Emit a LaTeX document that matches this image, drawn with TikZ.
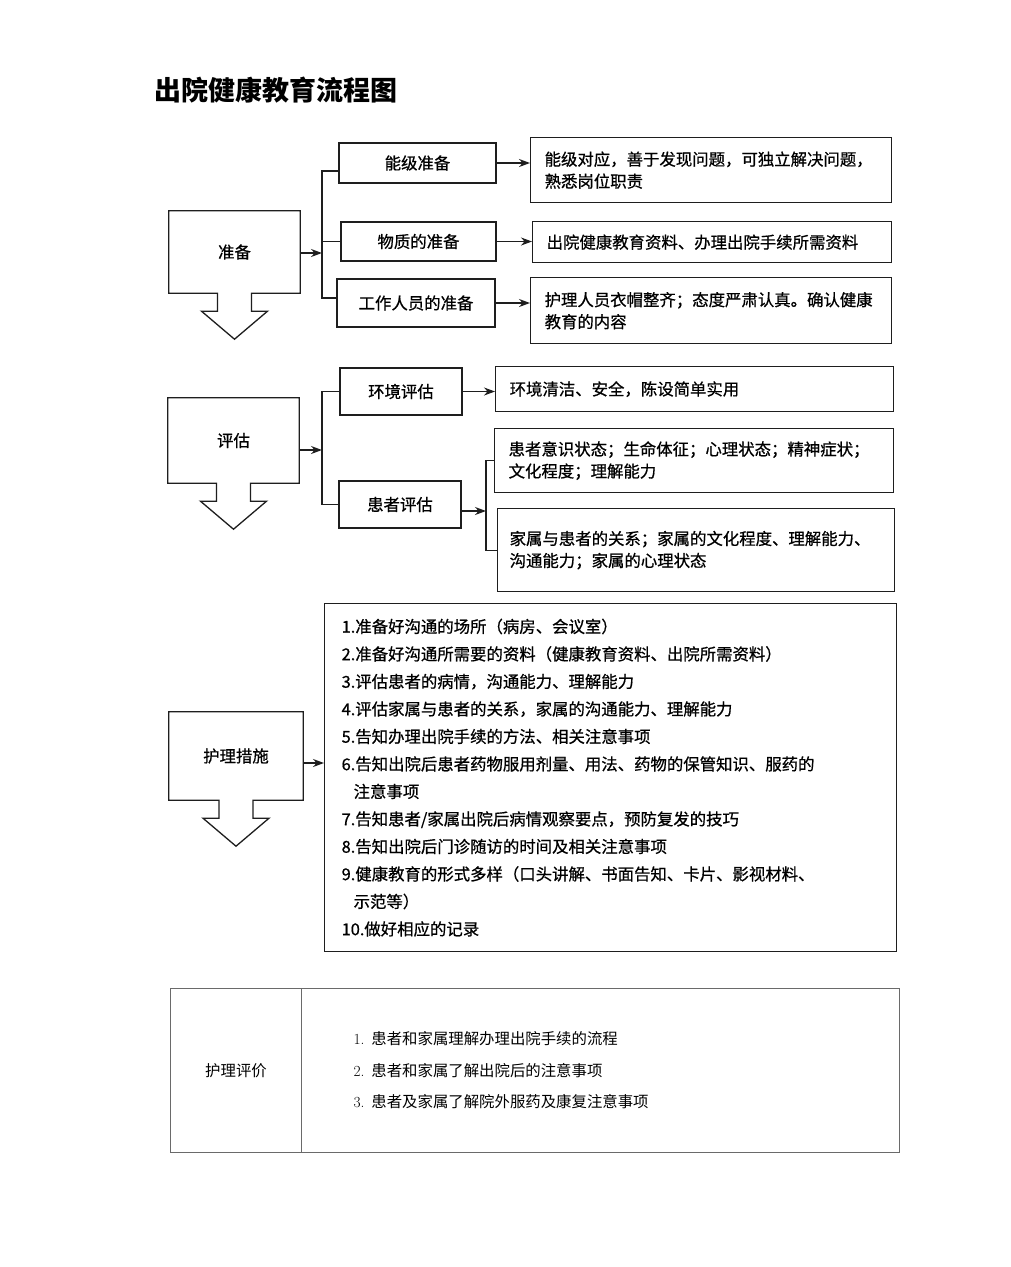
\documentclass[tikz,border=0pt]{standalone}
\usepackage{fontspec}
\newfontfamily\cjk{Noto Sans CJK SC}
\newfontfamily\cjkmid{Noto Sans CJK SC}[FakeBold=0.7]
\usetikzlibrary{arrows.meta,calc}
\definecolor{ink}{HTML}{1E1E1E}
\definecolor{rule}{HTML}{6A6A6A}

\newcommand{\blockarrow}[1]{%
  \draw[line] (#1.south west) -- (#1.north west) -- (#1.north east) -- (#1.south east)
    -- ($(#1.south)+(17,0)$) -- ++(0,18) -- ++(16,0) -- ($(#1.south)+(0,46)$)
    -- ($(#1.south)+(-33,18)$) -- ++(16,0) -- ++(0,-18) -- cycle;}

\begin{document}
\begin{tikzpicture}[x=1pt,y=-1pt,
    line/.style={line width=1.3pt, draw=ink},
    arr/.style={line, -{Stealth[length=11pt,width=8pt]}},
    stage/.style={inner sep=0pt, font=\cjkmid\fontsize{16.4}{20}\selectfont},
    labelbox/.style={line, inner sep=0pt, font=\cjkmid\fontsize{16.4}{20}\selectfont},
    descbox/.style={line, anchor=north west, inner xsep=14pt, inner ysep=0pt, align=left,
      font=\cjkmid\fontsize{16.4}{22}\selectfont},
    cell/.style={draw=rule, line width=1pt, anchor=north west, inner sep=0pt,
      font=\cjk\fontsize{15.4}{20}\selectfont}]
  \fill[white] (0,0) rectangle (1010,1267);
  \useasboundingbox (0,0) rectangle (1010,1267);

  \node[anchor=west, font=\cjk\bfseries\fontsize{27}{30}\selectfont] (title) at (151,90) {出院健康教育流程图};

  \node[stage, minimum width=131pt, minimum height=82pt] (prep) at (234.5,252) {准备};
  \blockarrow{prep}
  \coordinate (j1) at (322,253);
  \node[labelbox, minimum width=157pt, minimum height=40pt] (lv) at (417.5,163) {能级准备};
  \node[labelbox, minimum width=155pt, minimum height=39pt] (mat) at (418.5,241.5) {物质的准备};
  \node[labelbox, minimum width=158pt, minimum height=48pt] (wk) at (416,303) {工作人员的准备};
  \node[descbox, text width=333pt, minimum height=65pt] (lvd) at (530,137)
    {能级对应，善于发现问题，可独立解决问题，\\熟悉岗位职责};
  \node[descbox, text width=331pt, minimum height=41pt] (matd) at (532,221)
    {出院健康教育资料、办理出院手续所需资料};
  \node[descbox, text width=333pt, minimum height=66pt] (wkd) at (530,277)
    {护理人员衣帽整齐；态度严肃认真。确认健康\\教育的内容};
  \draw[arr] (prep.east |- j1) -- (j1);
  \draw[line] ([yshift=-8pt]lv.west) -| (j1) |- ([yshift=5pt]wk.west);
  \draw[line] (mat.west) -- (mat.west -| j1);
  \draw[arr] (lv.east) -- (lv.east -| lvd.west);
  \draw[arr] (mat.east) -- (mat.east -| matd.west);
  \draw[arr] (wk.east) -- (wk.east -| wkd.west);

  \node[stage, minimum width=131pt, minimum height=85pt] (asse) at (233.5,440.5) {评估};
  \blockarrow{asse}
  \coordinate (j2) at (322,450);
  \coordinate (j3) at (486,511);
  \node[labelbox, minimum width=122pt, minimum height=47pt] (env) at (401,391.5) {环境评估};
  \node[labelbox, minimum width=122pt, minimum height=47pt] (pat) at (400,504.5) {患者评估};
  \node[descbox, text width=370pt, minimum height=45pt] (envd) at (495,366)
    {环境清洁、安全，陈设简单实用};
  \node[descbox, text width=371pt, minimum height=64pt] (patd1) at (494,428)
    {患者意识状态；生命体征；心理状态；精神症状；\\文化程度；理解能力};
  \node[descbox, inner xsep=12pt, text width=373pt, minimum height=83pt] (patd2) at (497,508)
    {家属与患者的关系；家属的文化程度、理解能力、\\沟通能力；家属的心理状态};
  \draw[arr] (asse.east |- j2) -- (j2);
  \draw[line] (env.west) -| (j2) |- (pat.west);
  \draw[arr] (env.east) -- (env.east -| envd.west);
  \draw[arr] (pat.east |- j3) -- (j3);
  \draw[line] (patd1.west) -| (j3) |- (patd2.west);

  \node[stage, minimum width=134pt, minimum height=88pt] (meas) at (236,756) {护理措施};
  \blockarrow{meas}
  \node[descbox, inner xsep=17pt, text width=538pt, minimum height=348pt,
    font=\cjkmid\fontsize{16.4}{27.5}\selectfont] (carel) at (324,603)
    {1.准备好沟通的场所（病房、会议室）\\
     2.准备好沟通所需要的资料（健康教育资料、出院所需资料）\\
     3.评估患者的病情，沟通能力、理解能力\\
     4.评估家属与患者的关系，家属的沟通能力、理解能力\\
     5.告知办理出院手续的方法、相关注意事项\\
     6.告知出院后患者药物服用剂量、用法、药物的保管知识、服药的\\
     \hspace*{12pt}注意事项\\
     7.告知患者/家属出院后病情观察要点，预防复发的技巧\\
     8.告知出院后门诊随访的时间及相关注意事项\\
     9.健康教育的形式多样（口头讲解、书面告知、卡片、影视材料、\\
     \hspace*{12pt}示范等）\\
     10.做好相应的记录};
  \draw[arr] ([yshift=-7pt]meas.east) -- ([yshift=-7pt]meas.east -| carel.west);

  \node[cell, minimum width=131pt, minimum height=164pt] (evl) at (170,988) {护理评价};
  \node[cell, minimum width=598pt, minimum height=164pt, inner xsep=52pt, text width=494pt,
    align=left, font=\cjk\fontsize{15.4}{31.5}\selectfont] (evr) at (301,988)
    {{\rmfamily 1.}\hspace{7pt}患者和家属理解办理出院手续的流程\\
     {\rmfamily 2.}\hspace{7pt}患者和家属了解出院后的注意事项\\
     {\rmfamily 3.}\hspace{7pt}患者及家属了解院外服药及康复注意事项};
\end{tikzpicture}
\end{document}
